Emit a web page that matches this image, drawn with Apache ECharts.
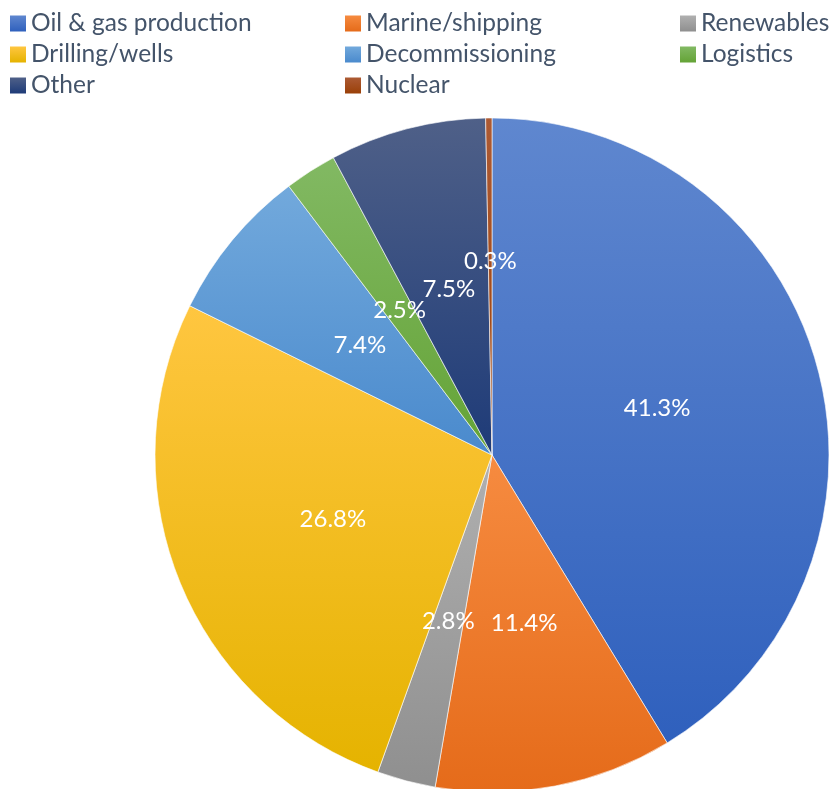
<!DOCTYPE html>
<html>
<head>
<meta charset="utf-8">
<script src="https://cdn.jsdelivr.net/npm/echarts@6/dist/echarts.min.js"></script>
<style>
  html, body { margin: 0; padding: 0; background: #ffffff; }
  #chart { width: 832px; height: 789px; }
</style>
</head>
<body>
<div id="chart"></div>
<script>
// Segment shares (percent), clockwise from 12 o'clock
const categories = [
  'Oil & gas production', 'Marine/shipping', 'Renewables',
  'Drilling/wells', 'Decommissioning', 'Logistics',
  'Other', 'Nuclear'
];
const shares = [41.3, 11.4, 2.8, 26.8, 7.4, 2.5, 7.5, 0.3];

// Gradient fills: light top -> darker bottom for each segment
const topColors = ['#5F87CF', '#F68B40', '#B0B0B0', '#FFC640', '#72A9DC', '#82B963', '#4F6088', '#AC5A34'];
const bottomColors = ['#2F60BD', '#E56B1A', '#8F8F8F', '#E5B300', '#4A8ACD', '#64A336', '#1E3B78', '#9A4008'];

// Legend columns
const legendColumns = [
  ['Oil & gas production', 'Drilling/wells', 'Other'],
  ['Marine/shipping', 'Decommissioning', 'Nuclear'],
  ['Renewables', 'Logistics']
];

const FONT = 'Lato';
const TEXT = '#44546A';

const chart = echarts.init(document.getElementById('chart'), null, { renderer: 'canvas' });

const gradient = (i) => new echarts.graphic.LinearGradient(0, 0, 0, 1, [
  { offset: 0, color: topColors[i] },
  { offset: 1, color: bottomColors[i] }
]);

const pieData = categories.map((name, i) => {
  const item = {
    name: name,
    value: shares[i],
    itemStyle: { color: gradient(i) }
  };
  if (name === 'Nuclear') {
    item.label = { offset: [0, -22] };
  }
  return item;
});

const legendLefts = [10, 345, 680];
const legend = legendColumns.map((col, k) => ({
  orient: 'vertical',
  left: legendLefts[k],
  top: 11,
  padding: 0,
  data: col,
  icon: 'rect',
  itemWidth: 16,
  itemHeight: 16,
  itemGap: 6,
  selectedMode: false,
  itemStyle: { borderWidth: 0 },
  textStyle: {
    fontFamily: FONT,
    fontSize: 24.5,
    color: TEXT
  }
}));

chart.setOption({
  animation: false,
  backgroundColor: '#ffffff',
  legend: legend,
  series: [{
    type: 'pie',
    center: [492, 455],
    radius: [0, 337],
    startAngle: 90,
    clockwise: true,
    avoidLabelOverlap: false,
    labelLayout: { hideOverlap: false },
    itemStyle: { borderColor: '#ffffff', borderWidth: 0.6 },
    label: {
      show: true,
      position: 'inside',
      formatter: (p) => p.value.toFixed(1) + '%',
      color: '#ffffff',
      fontFamily: FONT,
      fontSize: 24
    },
    labelLine: { show: false },
    emphasis: { disabled: true },
    data: pieData
  }]
});
</script>
</body>
</html>
